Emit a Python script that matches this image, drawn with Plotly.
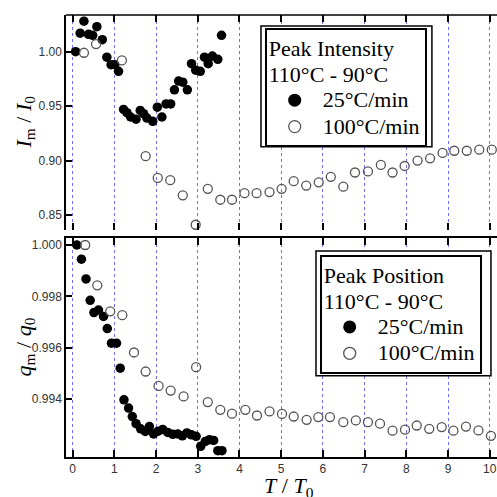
import plotly.graph_objects as go

# ---------------- data ----------------
t_int_25 = [0.07, 0.18, 0.27, 0.38, 0.48, 0.58, 0.71, 0.82, 0.92, 1.01, 1.10, 1.22, 1.30, 1.39,
            1.52, 1.62, 1.70, 1.78, 1.92, 2.03, 2.14, 2.24, 2.35, 2.44, 2.54, 2.64, 2.75, 2.85,
            2.95, 3.06, 3.16, 3.25, 3.35, 3.48, 3.57]
i_int_25 = [1.000, 1.017, 1.028, 1.016, 1.015, 1.023, 1.011, 0.995, 0.988, 0.988, 0.982, 0.947,
            0.944, 0.940, 0.938, 0.946, 0.943, 0.939, 0.936, 0.949, 0.940, 0.952, 0.952, 0.965,
            0.973, 0.972, 0.965, 0.989, 0.983, 0.982, 0.995, 0.989, 0.996, 0.993, 1.015]

t_int_100 = [0.27, 0.56, 1.18, 1.75, 2.04, 2.34, 2.64, 2.95, 3.24, 3.54, 3.82, 4.12, 4.41, 4.72,
             5.01, 5.30, 5.60, 5.90, 6.19, 6.49, 6.77, 7.08, 7.39, 7.67, 7.96, 8.27, 8.57, 8.87,
             9.15, 9.45, 9.75, 10.05]
i_int_100 = [0.999, 1.007, 0.992, 0.904, 0.884, 0.882, 0.868, 0.841, 0.874, 0.864, 0.864, 0.870,
             0.870, 0.871, 0.874, 0.881, 0.877, 0.880, 0.885, 0.876, 0.889, 0.890, 0.896, 0.889,
             0.895, 0.900, 0.902, 0.907, 0.909, 0.909, 0.910, 0.910]

t_pos_25 = [0.10, 0.21, 0.32, 0.42, 0.51, 0.62, 0.74, 0.83, 0.93, 1.05, 1.14, 1.23, 1.34, 1.43,
            1.52, 1.63, 1.74, 1.84, 1.94, 2.05, 2.16, 2.28, 2.40, 2.52, 2.63, 2.74, 2.85, 2.96,
            3.07, 3.18, 3.28, 3.38, 3.48, 3.58]
q_pos_25 = [1.0000, 0.99945, 0.99868, 0.99785, 0.99737, 0.99747, 0.99722, 0.99675, 0.99618,
            0.99618, 0.99521, 0.99398, 0.99366, 0.99333, 0.99305, 0.99285, 0.99275, 0.99294,
            0.99265, 0.99276, 0.99283, 0.99271, 0.99264, 0.99265, 0.99258, 0.99269, 0.99262,
            0.99256, 0.99217, 0.99236, 0.99243, 0.99240, 0.99200, 0.99200]

t_pos_100 = [0.30, 0.59, 0.90, 1.19, 1.47, 1.75, 2.06, 2.35, 2.66, 2.96, 3.24, 3.54, 3.82, 4.14,
             4.42, 4.72, 5.02, 5.30, 5.61, 5.89, 6.17, 6.49, 6.79, 7.08, 7.37, 7.67, 7.97, 8.25,
             8.55, 8.85, 9.13, 9.43, 9.73, 10.03]
q_pos_100 = [1.0000, 0.99843, 0.99742, 0.99727, 0.99582, 0.99508, 0.99452, 0.99434, 0.99411,
             0.99525, 0.99389, 0.99359, 0.99344, 0.99359, 0.99337, 0.99353, 0.99343, 0.99333,
             0.99320, 0.99331, 0.99331, 0.99311, 0.99318, 0.99311, 0.99305, 0.99278, 0.99282,
             0.99298, 0.99285, 0.99292, 0.99278, 0.99294, 0.99279, 0.99258]

x_ticks = list(range(0, 11))
top_ticks = [0.85, 0.90, 0.95, 1.00]
top_tick_labels = ["0.85", "0.90", "0.95", "1.00"]
bot_ticks = [0.994, 0.996, 0.998, 1.000]
bot_tick_labels = ["0.994", "0.996", "0.998", "1.000"]

label_25 = "25°C/min"
label_100 = "100°C/min"
legend_title_top = ["Peak Intensity", "110°C - 90°C"]
legend_title_bot = ["Peak Position", "110°C - 90°C"]

# ---------------- style ----------------
SERIF = "Liberation Serif"
SANS = "Liberation Sans"
TXT_PX = 22


def big(s):
    return '<span style="font-size:%dpx">%s</span>' % (TXT_PX, s)


FILL = dict(size=9.5, color="black", line=dict(width=0))
OPEN = dict(size=9, color="rgba(0,0,0,0)", line=dict(width=1.3, color="#555555"))
FILL_LEG = dict(size=13, color="black", line=dict(width=0))
OPEN_LEG = dict(size=12, color="rgba(0,0,0,0)", line=dict(width=1.3, color="#555555"))

fig = go.Figure()

# top panel
fig.add_trace(go.Scatter(x=t_int_25, y=i_int_25, mode="markers", marker=FILL,
                         xaxis="x", yaxis="y", showlegend=False))
fig.add_trace(go.Scatter(x=t_int_100, y=i_int_100, mode="markers", marker=OPEN,
                         xaxis="x", yaxis="y", showlegend=False))
# bottom panel
fig.add_trace(go.Scatter(x=t_pos_25, y=q_pos_25, mode="markers", marker=FILL,
                         xaxis="x2", yaxis="y2", showlegend=False))
fig.add_trace(go.Scatter(x=t_pos_100, y=q_pos_100, mode="markers", marker=OPEN,
                         xaxis="x2", yaxis="y2", showlegend=False))

# legend entries
fig.add_trace(go.Scatter(x=[None], y=[None], mode="markers", marker=FILL_LEG, name=big(label_25),
                         xaxis="x", yaxis="y", legend="legend"))
fig.add_trace(go.Scatter(x=[None], y=[None], mode="markers", marker=OPEN_LEG, name=big(label_100),
                         xaxis="x", yaxis="y", legend="legend"))
fig.add_trace(go.Scatter(x=[None], y=[None], mode="markers", marker=FILL_LEG, name=big(label_25),
                         xaxis="x2", yaxis="y2", legend="legend2"))
fig.add_trace(go.Scatter(x=[None], y=[None], mode="markers", marker=OPEN_LEG, name=big(label_100),
                         xaxis="x2", yaxis="y2", legend="legend2"))

XR = [-0.16, 10.175]
grid = dict(showgrid=True, gridcolor="#6f6fff", gridwidth=1, griddash="dot")
tickfont = dict(family=SANS, size=12, color="#333333")

LEG_FONT = dict(family=SERIF, size=18, color="black")
TITLE_FONT = dict(family=SERIF, size=20, color="black")
legend_common = dict(
    font=LEG_FONT,
    bgcolor="white", bordercolor="black", borderwidth=2,
    xanchor="left", yanchor="top", tracegroupgap=0, itemsizing="trace", itemwidth=46,
)

fig.update_layout(
    width=497, height=497,
    margin=dict(l=66, r=0, t=15, b=40, autoexpand=False),
    paper_bgcolor="white", plot_bgcolor="white",
    xaxis=dict(domain=[0, 1], range=XR, anchor="y", tickvals=x_ticks, showticklabels=False,
               ticks="inside", ticklen=7, tickwidth=1.5, tickcolor="black",
               showline=False, mirror="ticks", zeroline=False, automargin=False, **grid),
    yaxis=dict(domain=[0.5136, 1], range=[0.8362, 1.0337], anchor="x",
               tickvals=top_ticks, ticktext=top_tick_labels, tickfont=tickfont,
               ticks="inside", ticklen=6, tickwidth=1.5, tickcolor="black", automargin=False,
               showline=True, linewidth=1.5, linecolor="black", showgrid=False, zeroline=False),
    xaxis2=dict(domain=[0, 1], range=XR, anchor="y2", tickvals=x_ticks, tickfont=tickfont,
                ticks="inside", ticklen=7, tickwidth=1.5, tickcolor="black", automargin=False,
                showline=True, linewidth=1.5, linecolor="black", mirror="ticks",
                zeroline=False, **grid),
    yaxis2=dict(domain=[0, 0.4955], range=[0.991756, 1.000272], anchor="x2",
                tickvals=bot_ticks, ticktext=bot_tick_labels, tickfont=tickfont,
                ticks="inside", ticklen=6, tickwidth=1.5, tickcolor="black", automargin=False,
                showline=True, linewidth=1.5, linecolor="black", showgrid=False, zeroline=False),
    legend=dict(x=0.461, y=0.9706,
                title=dict(text="<br>".join(big(s) for s in legend_title_top), font=TITLE_FONT),
                **legend_common),
    legend2=dict(x=0.5886, y=0.4577,
                 title=dict(text="<br>".join(big(s) for s in legend_title_bot), font=TITLE_FONT),
                 **legend_common),
)

shapes = [
    # top border of upper panel
    dict(type="line", xref="paper", yref="paper", x0=0, x1=1, y0=1, y1=1,
         line=dict(color="black", width=1.5)),
    # outer frames of the double-bordered legends
    dict(type="rect", xref="paper", yref="paper", x0=0.4524, x1=0.849, y0=0.702, y1=0.975,
         line=dict(color="black", width=1.5), fillcolor="white", layer="above"),
    dict(type="rect", xref="paper", yref="paper", x0=0.580, x1=0.986, y0=0.184, y1=0.466,
         line=dict(color="black", width=1.5), fillcolor="white", layer="above"),
]
fig.update_layout(shapes=shapes)

title_font = dict(family=SERIF, size=22, color="black")
fig.add_annotation(text="<i>I</i><sub>m</sub> / <i>I</i><sub>0</sub>", xref="paper", yref="paper",
                   x=-0.095, y=0.757, textangle=-90, showarrow=False, font=title_font,
                   xanchor="center", yanchor="middle")
fig.add_annotation(text="<i>q</i><sub>m</sub> / <i>q</i><sub>0</sub>", xref="paper", yref="paper",
                   x=-0.095, y=0.248, textangle=-90, showarrow=False, font=title_font,
                   xanchor="center", yanchor="middle")
fig.add_annotation(text="<i>T</i> / <i>T</i><sub>0</sub>", xref="paper", yref="paper",
                   x=0.517, y=-0.068, showarrow=False, font=title_font,
                   xanchor="center", yanchor="middle")

fig.write_html("out.html", config={"displayModeBar": False},
               post_script="document.body.style.margin='0';")
